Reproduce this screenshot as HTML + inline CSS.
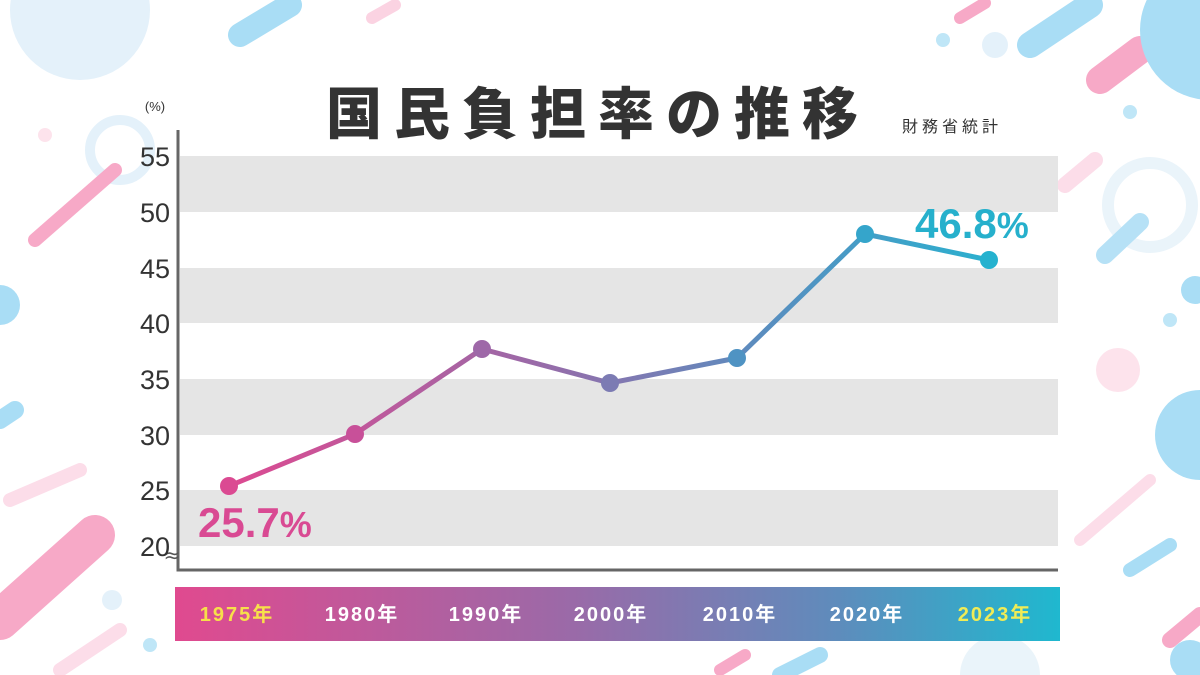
<!DOCTYPE html>
<html><head><meta charset="utf-8"><style>
html,body{margin:0;padding:0;background:#fff;width:1200px;height:675px;overflow:hidden;}
svg{display:block;}
</style></head><body>
<svg width="1200" height="675" viewBox="0 0 1200 675" xmlns="http://www.w3.org/2000/svg">
<defs>
<linearGradient id="lg" x1="0" x2="1" y1="0" y2="0">
<stop offset="0" stop-color="#e04a8f"/><stop offset="0.45" stop-color="#9a6aa8"/><stop offset="0.75" stop-color="#5e8cbc"/><stop offset="1" stop-color="#1fb8cf"/>
</linearGradient>
<linearGradient id="lg2" x1="229" x2="989" y1="0" y2="0" gradientUnits="userSpaceOnUse">
<stop offset="0" stop-color="#dd4a91"/><stop offset="0.4" stop-color="#9a6aa8"/><stop offset="0.7" stop-color="#5a8dbf"/><stop offset="1" stop-color="#2bb0cf"/>
</linearGradient>
</defs>
<g stroke-linecap="round" fill="none">
<circle cx="80" cy="10" r="70" fill="#e4f1fa" stroke="none"/>
<line x1="240" y1="35" x2="290" y2="5" stroke="#a9ddf5" stroke-width="24"/>
<line x1="372" y1="18" x2="395" y2="5" stroke="#fbd3e2" stroke-width="12"/>
<line x1="960" y1="18" x2="985" y2="3" stroke="#f7a9c7" stroke-width="12"/>
<line x1="1030" y1="45" x2="1090" y2="5" stroke="#a9ddf5" stroke-width="26"/>
<line x1="1100" y1="80" x2="1140" y2="50" stroke="#f7a9c7" stroke-width="28"/>
<circle cx="1210" cy="30" r="70" fill="#a9ddf5" stroke="none"/>
<circle cx="1130" cy="112" r="7" fill="#bfe6f7" stroke="none"/>
<circle cx="995" cy="45" r="13" fill="#e4f1fa" stroke="none"/>
<circle cx="943" cy="40" r="7" fill="#bfe6f7" stroke="none"/>
<line x1="1065" y1="185" x2="1095" y2="160" stroke="#fcdde9" stroke-width="16"/>
<circle cx="1150" cy="205" r="42" stroke="#eaf4fa" stroke-width="12"/>
<line x1="1105" y1="255" x2="1140" y2="222" stroke="#b6e1f6" stroke-width="18"/>
<circle cx="1195" cy="290" r="14" fill="#a9ddf5" stroke="none"/>
<circle cx="1170" cy="320" r="7" fill="#bfe6f7" stroke="none"/>
<circle cx="1118" cy="370" r="22" fill="#fde3ec" stroke="none"/>
<circle cx="1200" cy="435" r="45" fill="#a9ddf5" stroke="none"/>
<line x1="1080" y1="540" x2="1150" y2="480" stroke="#fcdde9" stroke-width="12"/>
<line x1="1130" y1="570" x2="1170" y2="545" stroke="#a9ddf5" stroke-width="14"/>
<line x1="1170" y1="640" x2="1200" y2="615" stroke="#f7a9c7" stroke-width="16"/>
<circle cx="1190" cy="660" r="20" fill="#a9ddf5" stroke="none"/>
<circle cx="120" cy="150" r="30" stroke="#e4f1fa" stroke-width="10"/>
<line x1="35" y1="240" x2="115" y2="170" stroke="#f7a9c7" stroke-width="14"/>
<circle cx="45" cy="135" r="7" fill="#fde3ec" stroke="none"/>
<circle cx="0" cy="305" r="20" fill="#a9ddf5" stroke="none"/>
<line x1="0" y1="420" x2="15" y2="410" stroke="#a9ddf5" stroke-width="18"/>
<line x1="10" y1="500" x2="80" y2="470" stroke="#fcdde9" stroke-width="14"/>
<line x1="0" y1="620" x2="95" y2="535" stroke="#f7a9c7" stroke-width="40"/>
<circle cx="112" cy="600" r="10" fill="#e4f1fa" stroke="none"/>
<circle cx="150" cy="645" r="7" fill="#bfe6f7" stroke="none"/>
<line x1="60" y1="670" x2="120" y2="630" stroke="#fcdde9" stroke-width="14"/>
<line x1="720" y1="670" x2="745" y2="655" stroke="#f7a9c7" stroke-width="12"/>
<line x1="780" y1="675" x2="820" y2="655" stroke="#a9ddf5" stroke-width="16"/>
<circle cx="1000" cy="675" r="40" fill="#eaf4fa" stroke="none"/>
</g>
<rect x="178" y="130" width="880" height="440" fill="#fff"/>
<g fill="#e5e5e5">
<rect x="180" y="156" width="878" height="56"/>
<rect x="180" y="268" width="878" height="55"/>
<rect x="180" y="379" width="878" height="56"/>
<rect x="180" y="490" width="878" height="56"/>
</g>
<path d="M178 130 V570 H1058" stroke="#666" stroke-width="3" fill="none"/>
<text x="172" y="562" font-family="DejaVu Sans,sans-serif" font-size="20" fill="#555" text-anchor="middle">≈</text>
<g font-family="Liberation Sans,sans-serif" font-size="27" fill="#333" text-anchor="end">
<text x="170" y="166">55</text><text x="170" y="222">50</text><text x="170" y="278">45</text>
<text x="170" y="333">40</text><text x="170" y="389">35</text><text x="170" y="445">30</text>
<text x="170" y="500">25</text><text x="170" y="556">20</text>
</g>
<text x="155" y="111" font-family="Liberation Sans,sans-serif" font-size="13" fill="#333" text-anchor="middle">(%)</text>
<text x="598" y="134" font-family="Liberation Sans,'Noto Sans CJK JP',sans-serif" font-size="56" font-weight="900" fill="#333" text-anchor="middle" letter-spacing="12">国民負担率の推移</text>
<text x="952" y="132" font-family="Liberation Sans,'Noto Sans CJK JP',sans-serif" font-size="16" fill="#333" text-anchor="middle" letter-spacing="4">財務省統計</text>
<polyline points="229,486 355,434 482,349 610,383 737,358 865,234 989,260" fill="none" stroke="url(#lg2)" stroke-width="5" stroke-linejoin="round"/>
<g>
<circle cx="229" cy="486" r="9" fill="#db4a92"/>
<circle cx="355" cy="434" r="9" fill="#c85099"/>
<circle cx="482" cy="349" r="9" fill="#9e68a8"/>
<circle cx="610" cy="383" r="9" fill="#7c7bb3"/>
<circle cx="737" cy="358" r="9" fill="#4f93c3"/>
<circle cx="865" cy="234" r="9" fill="#35a5cb"/>
<circle cx="989" cy="260" r="9" fill="#25b2cf"/>
</g>
<text x="198" y="537" font-family="Liberation Sans,sans-serif" font-size="42" font-weight="bold" fill="#d94a93">25.7<tspan font-size="36">%</tspan></text>
<text x="915" y="238" font-family="Liberation Sans,sans-serif" font-size="42" font-weight="bold" fill="#26b0cc">46.8<tspan font-size="36">%</tspan></text>
<rect x="175" y="587" width="885" height="54" fill="url(#lg)"/>
<g font-family="Liberation Sans,'Noto Sans CJK JP',sans-serif" font-size="20" font-weight="bold" fill="#fff" text-anchor="middle" letter-spacing="2">
<text x="237" y="621" fill="#f7e04a">1975年</text>
<text x="362" y="621">1980年</text>
<text x="486" y="621">1990年</text>
<text x="611" y="621">2000年</text>
<text x="740" y="621">2010年</text>
<text x="867" y="621">2020年</text>
<text x="995" y="621" fill="#f0ec56">2023年</text>
</g>
</svg>
</body></html>
